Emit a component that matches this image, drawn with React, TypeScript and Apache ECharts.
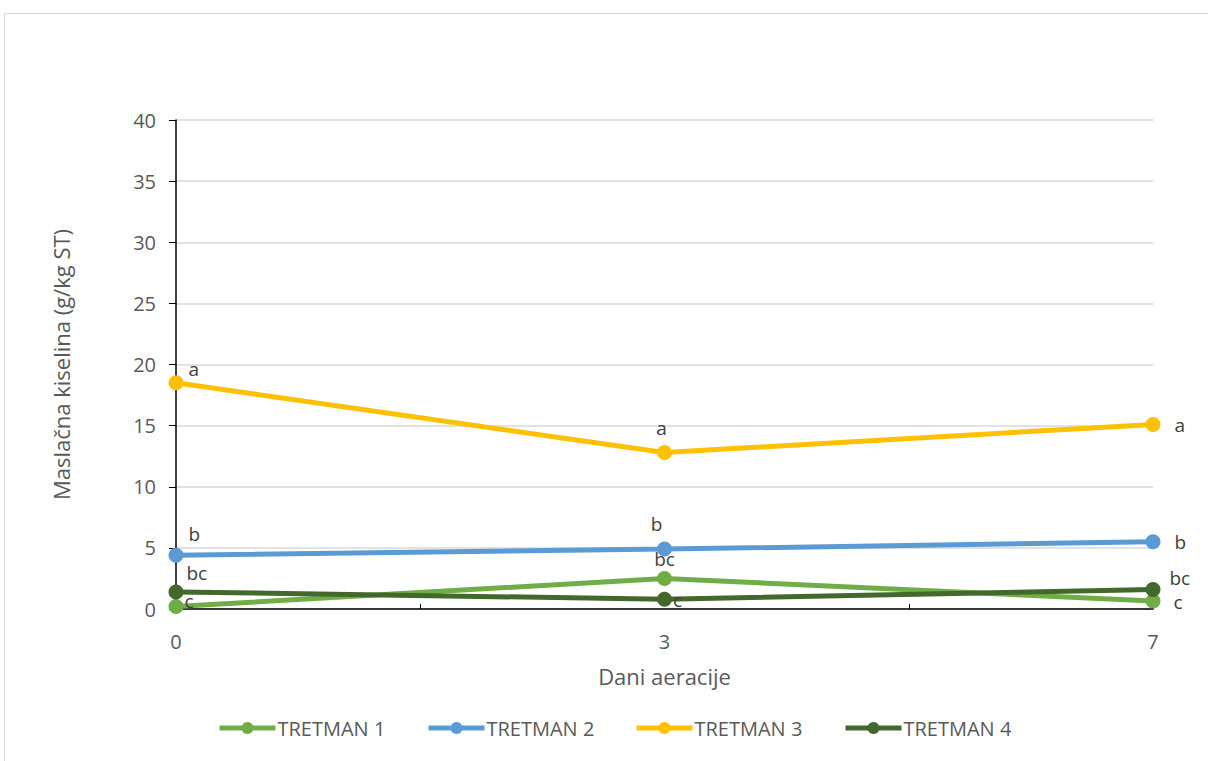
import React, { useEffect, useRef } from "react";
import * as echarts from "echarts";

const categories = ["0", "3", "7"];
const seriesNames = ["TRETMAN 1", "TRETMAN 2", "TRETMAN 3", "TRETMAN 4"];
const tretman1 = [0.2, 2.5, 0.65];
const tretman2 = [4.4, 4.9, 5.5];
const tretman3 = [18.5, 12.8, 15.1];
const tretman4 = [1.4, 0.8, 1.6];
const letters1 = ["c", "bc", "c"];
const letters2 = ["b", "b", "b"];
const letters3 = ["a", "a", "a"];
const letters4 = ["bc", "c", "bc"];
const yTicks = [0, 5, 10, 15, 20, 25, 30, 35, 40];

const colors = ["#70ad47", "#5b9bd5", "#ffc000", "#43682b"];

export default function App() {
  const ref = useRef<HTMLDivElement>(null);
  useEffect(() => {
    document.body.style.margin = "0";
    const chart = echarts.init(ref.current!, null, { renderer: "svg" });
    const font = "'Open Sans', 'Noto Sans', sans-serif";
    const values = [tretman1, tretman2, tretman3, tretman4];
    const letters = [letters1, letters2, letters3, letters4];
    // label placement per series and point: [position, dx, dy]
    const place: any[][] = [
      [["right", -4, -6], ["top", 0, 3], ["right", 8, 1]],
      [["right", 0, -21], ["top", -8, -3], ["right", 9, 0]],
      [["right", 0, -14], ["top", -3, -3], ["right", 9, 1]],
      [["right", -2, -19], ["right", -4, 1], ["right", 4, -11]],
    ];
    const series = values.map((vals, s) => ({
      name: seriesNames[s],
      type: "line",
      data: vals.map((v, i) => ({
        value: [i, v],
        label: {
          show: true,
          formatter: letters[s][i],
          position: place[s][i][0],
          offset: [place[s][i][1], place[s][i][2]],
          color: "#404040",
          fontSize: 19,
          fontFamily: font,
        },
      })),
      symbol: "circle",
      symbolSize: 15,
      lineStyle: { width: 5, color: colors[s] },
      itemStyle: { color: colors[s] },
      z: s === 3 ? 4 : 3,
    }));
    const legendLefts = [217, 426, 634, 843];
    const legends = seriesNames.map((n, i) => ({
      left: legendLefts[i],
      top: 718,
      padding: 0,
      itemWidth: 56,
      itemHeight: 15,
      itemGap: 0,
      lineStyle: { width: 5 },
      textStyle: { color: "#595959", fontSize: 20, fontFamily: font, padding: [0, 0, 0, -3] },
      data: [n],
    }));
    chart.setOption({
      animation: false,
      graphic: [
        {
          type: "rect",
          shape: { x: 4.5, y: 13.5, width: 1300, height: 900 },
          style: { fill: "none", stroke: "#d9d9d9", lineWidth: 1 },
          silent: true,
        },
      ],
      grid: { left: 176, right: 55, top: 120, bottom: 152, containLabel: false },
      xAxis: {
        type: "value",
        min: 0,
        max: categories.length - 1,
        interval: 0.5,
        name: "Dani aeracije",
        nameLocation: "middle",
        nameGap: 56,
        nameTextStyle: { color: "#595959", fontSize: 22, fontFamily: font },
        axisLine: { show: true, lineStyle: { color: "#000000", width: 1.5 } },
        axisTick: {
          show: true,
          inside: true,
          length: 5,
          customValues: [0.5, 1.5, 2],
          lineStyle: { color: "#000000" },
        },
        axisLabel: {
          customValues: categories.map((_, i) => i),
          formatter: (v: number) => categories[Math.round(v)] ?? "",
          color: "#595959",
          fontSize: 20,
          fontFamily: font,
          margin: 22,
        },
        splitLine: { show: false },
      },
      yAxis: {
        type: "value",
        min: 0,
        max: 40,
        interval: 5,
        name: "Maslačna kiselina (g/kg ST)",
        nameLocation: "middle",
        nameGap: 104,
        nameTextStyle: { color: "#595959", fontSize: 22, fontFamily: font },
        axisLine: { show: true, lineStyle: { color: "#000000", width: 1.5 } },
        axisTick: { show: true, inside: false, length: 7, lineStyle: { color: "#000000" } },
        axisLabel: {
          color: "#595959",
          fontSize: 20,
          fontFamily: font,
          margin: 20,
          formatter: (v: number) => (yTicks.includes(v) ? String(v) : ""),
        },
        splitLine: { show: true, lineStyle: { color: "#d9d9d9", width: 1.5 } },
      },
      legend: legends,
      series,
    });
    return () => chart.dispose();
  }, []);
  return <div ref={ref} style={{ width: 1208, height: 761 }} />;
}
